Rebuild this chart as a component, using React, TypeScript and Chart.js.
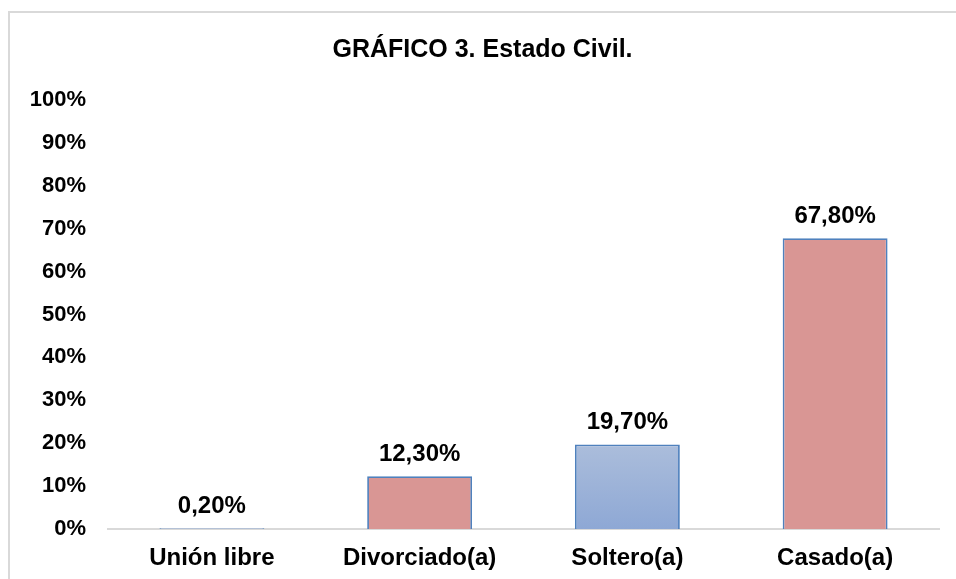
import React, { useEffect, useRef } from "react";
import { Chart, registerables } from "chart.js";

Chart.register(...registerables);

const categories = ["Unión libre", "Divorciado(a)", "Soltero(a)", "Casado(a)"];
const values = [0.2, 12.3, 19.7, 67.8];
const barKinds = ["blue", "pink", "blue", "pink"];
const yTicks = [0, 10, 20, 30, 40, 50, 60, 70, 80, 90, 100];

const FONT = "'Liberation Sans', Arial, sans-serif";

const framePlugin = {
  id: "frame",
  beforeDraw(chart: any) {
    const ctx = chart.ctx;
    ctx.save();
    ctx.fillStyle = "#ffffff";
    ctx.fillRect(0, 0, chart.width, chart.height);
    ctx.strokeStyle = "#d9d9d9";
    ctx.lineWidth = 2;
    ctx.strokeRect(9, 12, 2000, 2000);
    ctx.restore();
  },
};

const gradientPlugin = {
  id: "barGradient",
  beforeDatasetsDraw(chart: any) {
    const ctx = chart.ctx;
    const meta = chart.getDatasetMeta(0);
    meta.data.forEach((bar: any, i: number) => {
      if (barKinds[i] === "blue") {
        const top = Math.min(bar.y, bar.base);
        const bottom = Math.max(bar.y, bar.base);
        const g = ctx.createLinearGradient(0, top, 0, Math.max(bottom, top + 1));
        g.addColorStop(0, "#abbddb");
        g.addColorStop(1, "#8ea8d5");
        bar.options.backgroundColor = g;
      }
    });
  },
};

const labelPlugin = {
  id: "valueLabels",
  afterDatasetsDraw(chart: any) {
    const ctx = chart.ctx;
    const meta = chart.getDatasetMeta(0);
    ctx.save();
    ctx.font = `bold 24px ${FONT}`;
    ctx.fillStyle = "#000000";
    ctx.textAlign = "center";
    ctx.textBaseline = "alphabetic";
    meta.data.forEach((bar: any, i: number) => {
      const txt = values[i].toFixed(2).replace(".", ",") + "%";
      ctx.fillText(txt, bar.x, bar.y - 15);
    });
    ctx.restore();
  },
};

export default function App() {
  const ref = useRef<HTMLCanvasElement>(null);

  useEffect(() => {
    if (!ref.current) return;
    const chart = new Chart(ref.current, {
      type: "bar",
      data: {
        labels: categories,
        datasets: [
          {
            data: values,
            backgroundColor: barKinds.map((k) => (k === "blue" ? "#9db2d8" : "#d99694")),
            borderColor: "#4f81bd",
            borderWidth: 1.8,
            barPercentage: 0.505,
            categoryPercentage: 1,
          },
        ],
      },
      options: {
        responsive: false,
        animation: false,
        layout: { padding: { left: 26, right: 17, top: 0, bottom: 0 } },
        plugins: {
          legend: { display: false },
          tooltip: { enabled: false },
          title: {
            display: true,
            text: "GRÁFICO 3. Estado Civil.",
            color: "#000000",
            font: { family: FONT, size: 25, weight: "bold" },
            padding: { top: 35, bottom: 35 },
          },
        },
        scales: {
          x: {
            grid: { display: false, drawTicks: false },
            border: { display: true, color: "#d9d9d9", width: 2 },
            ticks: {
              color: "#000000",
              font: { family: FONT, size: 24, weight: "bold" },
              padding: 15,
              maxRotation: 0,
              autoSkip: false,
            },
            afterFit(scale: any) {
              scale.height = 50;
            },
          },
          y: {
            min: 0,
            max: 100,
            afterBuildTicks(scale: any) {
              scale.ticks = yTicks.map((v) => ({ value: v }));
            },
            grid: { display: false, drawTicks: false },
            border: { display: false },
            ticks: {
              color: "#000000",
              font: { family: FONT, size: 22, weight: "bold" },
              padding: 22,
              callback: (v: any) => `${v}%`,
            },
            afterFit(scale: any) {
              scale.width = 82;
            },
          },
        },
      },
      plugins: [framePlugin, gradientPlugin, labelPlugin],
    });
    return () => chart.destroy();
  }, []);

  return (
    <div style={{ position: "absolute", left: 0, top: 0, width: 956, height: 579 }}>
      <canvas ref={ref} width={956} height={579} style={{ width: 956, height: 579, display: "block" }} />
    </div>
  );
}
